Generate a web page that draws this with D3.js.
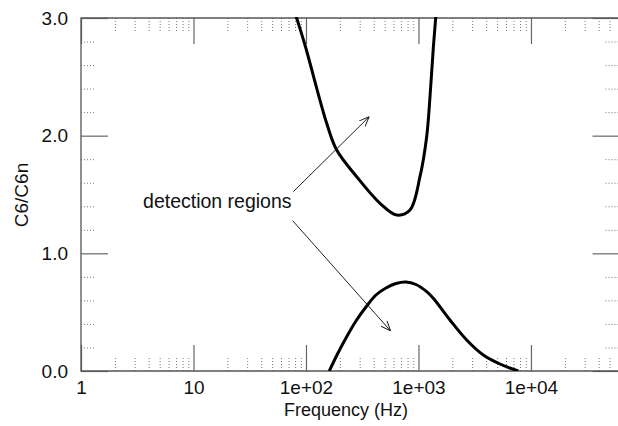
<!DOCTYPE html>
<html>
<head>
<meta charset="utf-8">
<script src="https://cdn.jsdelivr.net/npm/d3@7"></script>
<style>
  html, body { margin: 0; padding: 0; background: #fff; }
  svg { display: block; }
  text { font-family: "Liberation Sans", Arial, Helvetica, sans-serif; fill: #111; }
</style>
</head>
<body>
<svg id="chart" width="618" height="426"></svg>
<script>
// Upper detection boundary: C6/C6n against frequency (Hz)
const upperFreq = [78.5, 82.64, 97.97, 152.8, 187.5, 282.3, 454.8, 640.1, 840.3, 1031.2, 1182.9, 1260.2, 1353.8, 1422, 1442.6];
const upperRatio = [3.07, 3.0, 2.7705, 2.105, 1.878, 1.6513, 1.4252, 1.3258, 1.3683, 1.6513, 1.9912, 2.3031, 2.7425, 3.0, 3.085];

// Lower detection boundary
const lowerFreq = [161.1, 188.6, 226.8, 278.2, 346.5, 419.0, 514.1, 631.0, 774.3, 950.0, 1182.9, 1353.8,
                   1905.5, 2682, 3767, 5303, 7712];
const lowerRatio = [0.0, 0.136, 0.2805, 0.4249, 0.5524, 0.6459, 0.7054, 0.7436, 0.7564, 0.7351, 0.6739, 0.6178,
                    0.4334, 0.2635, 0.136, 0.0595, 0.0];

// Axis ticks
const xMajor = [1, 10, 100, 1000, 10000];
const xMajorLabels = ["1", "10", "1e+02", "1e+03", "1e+04"];
const yMajor = [0, 1, 2, 3];
const yMajorLabels = ["0.0", "1.0", "2.0", "3.0"];

// Annotation: label position and arrow ends, in data units
const noteText = "detection regions";
const notePos = [3.56, 1.385];
const arrows = [
  { from: [77.1, 1.524], to: [365, 2.161] },
  { from: [76.2, 1.277], to: [566, 0.34] }
];

const svg = d3.select("#chart");
const plotLeft = 81, plotRight = 618.5, plotTop = 18, plotBottom = 371;

const x = d3.scaleLog().domain([1, 6e4]).range([plotLeft, plotRight]);
const y = d3.scaleLinear().domain([0, 3]).range([plotBottom, plotTop]);

// Minor tick positions: 2..9 within each decade, 0.2 steps on y
const xMinor = [];
for (let d = 1; d <= 1e4; d *= 10) for (let k = 2; k <= 9; k++) if (d * k <= 6e4) xMinor.push(d * k);
const yMinor = d3.range(0, 15).map(i => i * 0.2).filter(v => Math.abs(v - Math.round(v)) > 1e-6);

const axisColor = "#555";
const tickColor = "#666";
const minorColor = "#777";

function styleMinor(g) {
  g.select(".domain").remove();
  g.selectAll(".tick line").attr("stroke", minorColor).attr("stroke-dasharray", "1,2").attr("stroke-width", 1);
  g.selectAll(".tick text").remove();
}
function styleMajor(g) {
  g.select(".domain").remove();
  g.selectAll(".tick line").attr("stroke", tickColor).attr("stroke-width", 1.2);
}

// minor ticks on all four sides
svg.append("g").attr("transform", `translate(0,${plotBottom})`)
  .call(d3.axisBottom(x).tickValues(xMinor).tickSizeInner(-13).tickSizeOuter(0).tickFormat(""))
  .call(styleMinor);
svg.append("g").attr("transform", `translate(0,${plotTop})`)
  .call(d3.axisTop(x).tickValues(xMinor).tickSizeInner(-14).tickSizeOuter(0).tickFormat(""))
  .call(styleMinor);
svg.append("g").attr("transform", `translate(${plotLeft},0)`)
  .call(d3.axisLeft(y).tickValues(yMinor).tickSizeInner(-14).tickSizeOuter(0).tickFormat(""))
  .call(styleMinor);
svg.append("g").attr("transform", `translate(${plotRight},0)`)
  .call(d3.axisRight(y).tickValues(yMinor).tickSizeInner(-14).tickSizeOuter(0).tickFormat(""))
  .call(styleMinor);

// major ticks with labels
const xAxis = svg.append("g").attr("transform", `translate(0,${plotBottom})`)
  .call(d3.axisBottom(x).tickValues(xMajor).tickSizeInner(-26).tickSizeOuter(0).tickPadding(10)
    .tickFormat((d, i) => xMajorLabels[i]))
  .call(styleMajor);
xAxis.selectAll(".tick text").attr("font-size", 19).attr("fill", "#111")
  .attr("font-family", "Liberation Sans, Arial, sans-serif");

const yAxis = svg.append("g").attr("transform", `translate(${plotLeft},0)`)
  .call(d3.axisLeft(y).tickValues(yMajor).tickSizeInner(-27).tickSizeOuter(0).tickPadding(13)
    .tickFormat((d, i) => yMajorLabels[i]))
  .call(styleMajor);
yAxis.selectAll(".tick text").attr("font-size", 19).attr("fill", "#111")
  .attr("font-family", "Liberation Sans, Arial, sans-serif");

svg.append("g").attr("transform", `translate(0,${plotTop})`)
  .call(d3.axisTop(x).tickValues(xMajor).tickSizeInner(-26).tickSizeOuter(0).tickFormat(""))
  .call(styleMajor);
svg.append("g").attr("transform", `translate(${plotRight},0)`)
  .call(d3.axisRight(y).tickValues(yMajor).tickSizeInner(-26).tickSizeOuter(0).tickFormat(""))
  .call(styleMajor);

// frame: left, top, bottom
svg.append("path")
  .attr("d", `M${plotRight + 2},${plotTop}H${plotLeft}V${plotBottom}H${plotRight + 2}`)
  .attr("fill", "none").attr("stroke", axisColor).attr("stroke-width", 1.3);

// curves
svg.append("clipPath").attr("id", "plotClip")
  .append("rect").attr("x", plotLeft).attr("y", plotTop - 1)
  .attr("width", plotRight - plotLeft).attr("height", plotBottom - plotTop + 1);

const line = d3.line().x(d => x(d[0])).y(d => y(d[1])).curve(d3.curveCatmullRom.alpha(0.5));
const curves = svg.append("g").attr("clip-path", "url(#plotClip)");
curves.append("path").datum(d3.zip(upperFreq, upperRatio))
  .attr("d", line).attr("fill", "none").attr("stroke", "#000").attr("stroke-width", 3)
  .attr("stroke-linejoin", "round");
curves.append("path").datum(d3.zip(lowerFreq, lowerRatio))
  .attr("d", line).attr("fill", "none").attr("stroke", "#000").attr("stroke-width", 3)
  .attr("stroke-linejoin", "round");

// annotation
svg.append("defs").append("marker")
  .attr("id", "openArrow").attr("viewBox", "0 0 10 10").attr("refX", 10).attr("refY", 5)
  .attr("markerWidth", 10).attr("markerHeight", 10).attr("markerUnits", "userSpaceOnUse")
  .attr("orient", "auto")
  .append("path").attr("d", "M0,1 L10,5 L0,9").attr("fill", "none").attr("stroke", "#222").attr("stroke-width", 1);

svg.append("g").selectAll("line").data(arrows).join("line")
  .attr("x1", d => x(d.from[0])).attr("y1", d => y(d.from[1]))
  .attr("x2", d => x(d.to[0])).attr("y2", d => y(d.to[1]))
  .attr("stroke", "#222").attr("stroke-width", 1)
  .attr("marker-end", "url(#openArrow)");

svg.append("text").attr("x", x(notePos[0])).attr("y", y(notePos[1]))
  .attr("font-size", 19.5).text(noteText);

// axis titles
svg.append("text").attr("x", 346).attr("y", 416).attr("text-anchor", "middle")
  .attr("font-size", 18).text("Frequency (Hz)");
svg.append("text").attr("transform", "translate(28,195) rotate(-90)").attr("text-anchor", "middle")
  .attr("font-size", 19).text("C6/C6n");
</script>
</body>
</html>
